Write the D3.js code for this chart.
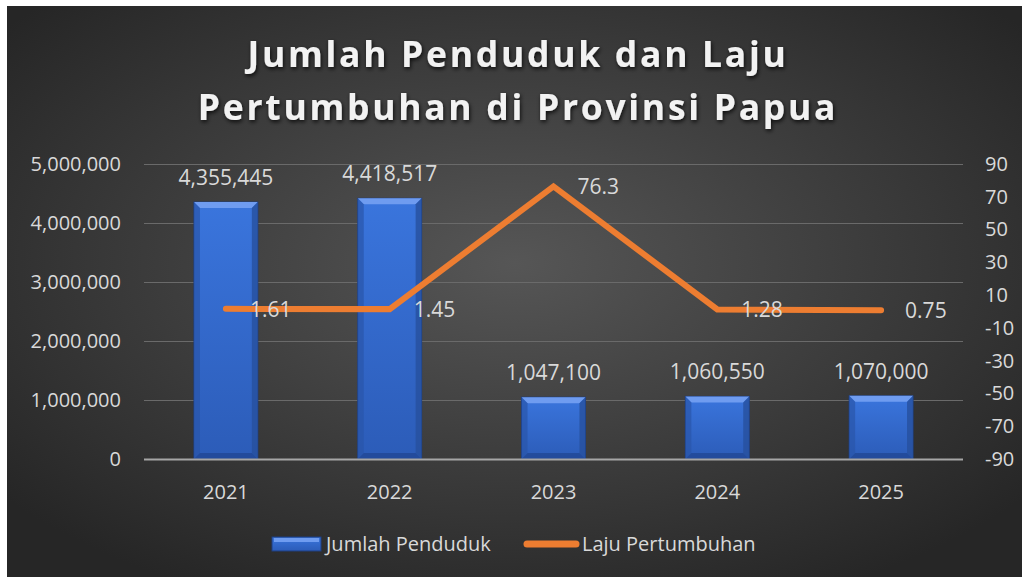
<!DOCTYPE html>
<html>
<head>
<meta charset="utf-8">
<script src="https://cdn.jsdelivr.net/npm/d3@7"></script>
<style>
  body { margin: 0; background: #fff; }
  text { font-family: "Open Sans", "Noto Sans", sans-serif; }
</style>
</head>
<body>
<div id="chart"></div>
<script>
"use strict";

// data
var years = ["2021", "2022", "2023", "2024", "2025"];
var penduduk = [4355445, 4418517, 1047100, 1060550, 1070000];
var laju = [1.61, 1.45, 76.3, 1.28, 0.75];
var lajuLabels = ["1.61", "1.45", "76.3", "1.28", "0.75"];
var leftTicks = [0, 1000000, 2000000, 3000000, 4000000, 5000000];
var rightTicks = [90, 70, 50, 30, 10, -10, -30, -50, -70, -90];

var width = 1022;
var height = 578;
var margin = {top: 164, right: 59, bottom: 119, left: 144};

var svg = d3.select("#chart").append("svg")
    .attr("width", width)
    .attr("height", height);

var defs = svg.append("defs");

// dark background with a lighter centre
var bg = defs.append("radialGradient")
    .attr("id", "bg")
    .attr("cx", "50%").attr("cy", "45%").attr("r", "65%");
bg.append("stop").attr("offset", "0%").attr("stop-color", "#565656");
bg.append("stop").attr("offset", "100%").attr("stop-color", "#262626");

// bar body
var barGrad = defs.append("linearGradient")
    .attr("id", "barGrad")
    .attr("x1", "0").attr("x2", "0").attr("y1", "0").attr("y2", "1");
barGrad.append("stop").attr("offset", "0%").attr("stop-color", "#3a75dd");
barGrad.append("stop").attr("offset", "100%").attr("stop-color", "#2c5cb8");

var shadow = defs.append("filter").attr("id", "shadow")
    .attr("x", "-10%").attr("y", "-10%").attr("width", "130%").attr("height", "140%");
shadow.append("feDropShadow")
    .attr("dx", 1).attr("dy", 2).attr("stdDeviation", 2)
    .attr("flood-color", "#000").attr("flood-opacity", 0.8);

svg.append("rect")
    .attr("x", 7).attr("y", 6)
    .attr("width", width - 7).attr("height", 571)
    .attr("fill", "url(#bg)");

var x = d3.scaleBand()
    .domain(years)
    .range([margin.left, width - margin.right])
    .paddingInner(0.61)
    .paddingOuter(0.305);

var y = d3.scaleLinear()
    .domain([0, 5000000])
    .range([height - margin.bottom, margin.top]);

var y2 = d3.scaleLinear()
    .domain([-90, 90])
    .range([height - margin.bottom, margin.top]);

// gridlines
svg.append("g")
    .selectAll("line")
    .data(leftTicks.filter(d => d > 0))
    .enter().append("line")
    .attr("x1", margin.left)
    .attr("x2", width - margin.right)
    .attr("y1", d => Math.round(y(d)) + 0.5)
    .attr("y2", d => Math.round(y(d)) + 0.5)
    .attr("stroke", "#6a6a6a")
    .attr("stroke-width", 1);

// left axis
var leftAxis = svg.append("g")
    .attr("transform", `translate(${margin.left - 23},0)`)
    .call(d3.axisLeft(y).tickValues(leftTicks).tickSize(0).tickPadding(0)
        .tickFormat(d3.format(",")));
leftAxis.select(".domain").remove();
leftAxis.selectAll("text")
    .attr("fill", "#d9d9d9")
    .style("font-size", "20px");

// right axis (plain hyphen minus like the original)
var rightAxis = svg.append("g")
    .attr("transform", `translate(${width - margin.right + 22},0)`)
    .call(d3.axisRight(y2).tickValues(rightTicks).tickSize(0).tickPadding(0)
        .tickFormat(d => String(d)));
rightAxis.select(".domain").remove();
rightAxis.selectAll("text")
    .attr("fill", "#d9d9d9")
    .style("font-size", "20px");

// bars
var bars = svg.append("g")
    .selectAll("g")
    .data(years)
    .enter().append("g");

bars.append("rect")
    .attr("x", d => x(d))
    .attr("y", (d, i) => y(penduduk[i]))
    .attr("width", x.bandwidth())
    .attr("height", (d, i) => y(0) - y(penduduk[i]))
    .attr("fill", "url(#barGrad)")
    .attr("stroke", "#1f3f80")
    .attr("stroke-width", 1);

// bevel: light top, darker sides and bottom
var bev = 6;
bars.append("path")
    .attr("d", (d, i) => {
        var x0 = x(d), x1 = x(d) + x.bandwidth(), t = y(penduduk[i]);
        return `M${x0},${t}L${x1},${t}L${x1 - bev},${t + bev}L${x0 + bev},${t + bev}Z`;
    })
    .attr("fill", "#6f9cf0");
bars.append("path")
    .attr("d", (d, i) => {
        var x1 = x(d) + x.bandwidth(), t = y(penduduk[i]), b = y(0);
        return `M${x1},${t}L${x1},${b}L${x1 - bev},${b - bev}L${x1 - bev},${t + bev}Z`;
    })
    .attr("fill", "#27509e")
    .attr("opacity", 0.8);
bars.append("path")
    .attr("d", (d, i) => {
        var x0 = x(d), t = y(penduduk[i]), b = y(0);
        return `M${x0},${t}L${x0},${b}L${x0 + bev},${b - bev}L${x0 + bev},${t + bev}Z`;
    })
    .attr("fill", "#2a56aa")
    .attr("opacity", 0.7);
bars.append("path")
    .attr("d", (d, i) => {
        var x0 = x(d), x1 = x(d) + x.bandwidth(), b = y(0);
        return `M${x0},${b}L${x1},${b}L${x1 - bev},${b - bev}L${x0 + bev},${b - bev}Z`;
    })
    .attr("fill", "#1f4590")
    .attr("opacity", 0.7);

// bar value labels
bars.append("text")
    .attr("x", d => x(d) + x.bandwidth() / 2)
    .attr("y", (d, i) => y(penduduk[i]) - 17)
    .attr("text-anchor", "middle")
    .attr("fill", "#d9d9d9")
    .style("font-size", "21px")
    .text((d, i) => d3.format(",")(penduduk[i]));

// x axis line
svg.append("line")
    .attr("x1", margin.left)
    .attr("x2", width - margin.right)
    .attr("y1", y(0) + 0.5)
    .attr("y2", y(0) + 0.5)
    .attr("stroke", "#a6a6a6")
    .attr("stroke-width", 2);

// x axis labels
svg.append("g")
    .selectAll("text")
    .data(years)
    .enter().append("text")
    .attr("x", d => x(d) + x.bandwidth() / 2)
    .attr("y", y(0) + 40)
    .attr("text-anchor", "middle")
    .attr("fill", "#d9d9d9")
    .style("font-size", "20px")
    .text(d => d);

// growth line
var line = d3.line()
    .x((d, i) => x(years[i]) + x.bandwidth() / 2)
    .y(d => y2(d));

svg.append("path")
    .datum(laju)
    .attr("d", line)
    .attr("fill", "none")
    .attr("stroke", "#ed7d31")
    .attr("stroke-width", 6)
    .attr("stroke-linecap", "round")
    .attr("stroke-linejoin", "miter");

svg.append("g")
    .selectAll("text")
    .data(laju)
    .enter().append("text")
    .attr("x", (d, i) => x(years[i]) + x.bandwidth() / 2 + 24)
    .attr("y", d => y2(d) + 8)
    .attr("fill", "#d9d9d9")
    .style("font-size", "21px")
    .text((d, i) => lajuLabels[i]);

// title
var title = svg.append("text")
    .attr("text-anchor", "middle")
    .attr("fill", "#f2f2f2")
    .attr("filter", "url(#shadow)")
    .style("font-size", "35.5px")
    .style("font-weight", "bold")
    .style("letter-spacing", "2.7px");
title.append("tspan").attr("x", 518).attr("y", 67).text("Jumlah Penduduk dan Laju");
title.append("tspan").attr("x", 518).attr("y", 120).text("Pertumbuhan di Provinsi Papua");

// legend
var legend = svg.append("g");
legend.append("rect")
    .attr("x", 272).attr("y", 537)
    .attr("width", 49).attr("height", 14)
    .attr("fill", "url(#barGrad)")
    .attr("stroke", "#1f3f80");
legend.append("rect")
    .attr("x", 274).attr("y", 538)
    .attr("width", 45).attr("height", 4)
    .attr("fill", "#6f9cf0");
legend.append("text")
    .attr("x", 326).attr("y", 551)
    .attr("fill", "#d9d9d9")
    .style("font-size", "20px")
    .text("Jumlah Penduduk");
legend.append("line")
    .attr("x1", 527).attr("x2", 576)
    .attr("y1", 544).attr("y2", 544)
    .attr("stroke", "#ed7d31")
    .attr("stroke-width", 7)
    .attr("stroke-linecap", "round");
legend.append("text")
    .attr("x", 582).attr("y", 551)
    .attr("fill", "#d9d9d9")
    .style("font-size", "20px")
    .text("Laju Pertumbuhan");
</script>
</body>
</html>
